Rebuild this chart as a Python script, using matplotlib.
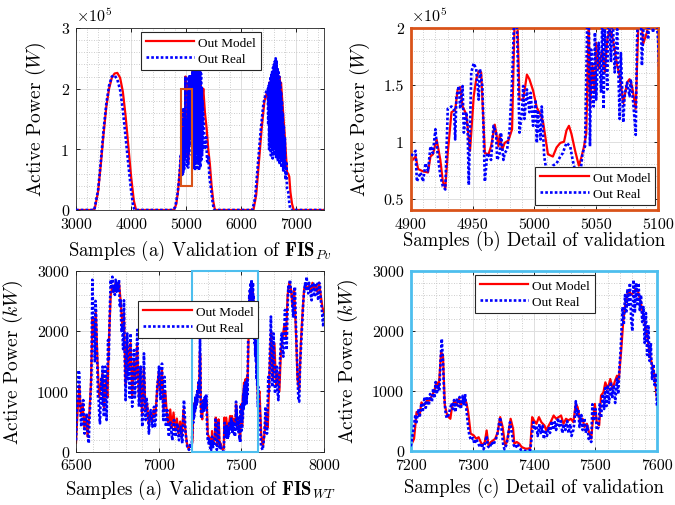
import numpy as np
import matplotlib
matplotlib.use('Agg')
import matplotlib.pyplot as plt
from matplotlib.patches import Rectangle
from matplotlib.ticker import MultipleLocator, FuncFormatter

plt.rcParams['font.family'] = 'serif'
plt.rcParams['font.serif'] = ['cmr10']
plt.rcParams['mathtext.fontset'] = 'cm'
plt.rcParams['axes.formatter.use_mathtext'] = True

################################################################
# data - PV (values in 1e5 W)

pv_model_pre_x = [3000, 3300, 3340, 3400, 3450, 3500, 3550, 3600, 3650, 3700, 3750, 3800, 3850, 3900, 3950,
                  4000, 4050, 4090, 4780, 4820, 4850, 4880]
pv_model_pre_y = [0, 0, 0.02, 0.3, 0.75, 1.25, 1.7, 2.0, 2.18, 2.25, 2.26, 2.18, 1.95, 1.55, 1.05,
                  0.55, 0.15, 0, 0, 0.1, 0.3, 0.6]

pv_model_det_x = [4900, 4904, 4906, 4910, 4914, 4916, 4918, 4921, 4924, 4926, 4928, 4930, 4933, 4936, 4938,
                  4940, 4942, 4945, 4948, 4951, 4953, 4955, 4957, 4960, 4963, 4965, 4968, 4971, 4972, 4974,
                  4976, 4979, 4982, 4984, 4986, 4988, 4991, 4994, 4996, 4999, 5002, 5005, 5007, 5011, 5015,
                  5018, 5021, 5024, 5026, 5028, 5030, 5033, 5036, 5038, 5040, 5042, 5044, 5045, 5047, 5049,
                  5050, 5052, 5055, 5057, 5059, 5061, 5063, 5065, 5067, 5069, 5072, 5075, 5077, 5079, 5082,
                  5084, 5086, 5088, 5091, 5093, 5100]
pv_model_det_y = [0.82, 0.87, 0.76, 0.74, 0.73, 0.87, 0.89, 1.02, 0.84, 0.65, 0.59, 0.90, 1.26, 1.28, 1.46,
                  1.48, 1.31, 1.24, 0.92, 1.40, 1.55, 1.62, 1.61, 0.90, 0.89, 0.96, 1.15, 0.96, 1.06, 0.93,
                  0.99, 1.01, 1.11, 2.05, 2.2, 1.37, 1.37, 1.59, 1.55, 1.45, 1.30, 1.24, 1.18, 0.89, 0.87,
                  0.95, 0.99, 1.0, 1.10, 1.14, 1.07, 0.92, 0.79, 0.86, 0.95, 1.07, 2.1, 1.29, 1.67, 1.43,
                  1.87, 1.64, 1.81, 1.61, 1.90, 1.99, 1.93, 1.81, 1.67, 1.58, 1.34, 1.52, 1.55, 1.49, 1.29,
                  2.0, 2.2, 1.86, 1.96, 2.1, 2.1]

pv_model_post_x = [5105, 5110, 5115, 5120, 5125, 5130, 5135, 5140, 5145, 5150, 5155, 5160, 5165, 5170, 5175,
                   5180, 5185, 5190, 5195, 5200, 5205, 5210, 5215, 5220, 5225, 5230, 5235, 5240, 5245, 5250,
                   5255, 5260, 5265, 5270, 5275, 5280, 5290, 5300, 5310, 5340, 5370, 5400, 5430, 5460, 5490,
                   5520, 6220, 6270, 6320, 6370, 6420, 6470, 6500, 6510, 6525, 6540, 6555, 6570, 6585, 6600,
                   6615, 6630, 6645, 6660, 6675, 6690, 6705, 6720, 6735, 6750, 6770, 6790, 6810, 6830, 6850,
                   6870, 6890, 6920, 6950, 7500]
pv_model_post_y = [1.5, 2.2, 1.4, 2.3, 1.2, 2.25, 1.3, 2.3, 1.1, 2.3, 1.4, 2.2, 1.2, 2.3, 1.3,
                   2.25, 1.1, 2.3, 1.4, 2.2, 1.2, 2.3, 1.3, 2.2, 1.1, 2.25, 1.4, 2.1, 1.3, 2.2,
                   1.5, 2.1, 1.4, 2.0, 1.6, 2.0, 1.7, 1.9, 2.0, 1.6, 1.35, 1.0, 0.75, 0.4, 0.15,
                   0, 0, 0.25, 0.8, 1.35, 1.8, 1.95, 1.7, 2.1, 1.6, 2.2, 1.5, 2.25, 1.4, 2.3,
                   1.5, 2.3, 1.6, 2.3, 1.7, 2.2, 1.8, 2.1, 1.9, 1.7, 1.45, 1.2, 0.9, 0.62, 0.6,
                   0.55, 0.3, 0.1, 0, 0]

pv_real_pre_x = [3000, 3330, 3400, 3450, 3500, 3550, 3600, 3650, 3700, 3750, 3800, 3850, 3900, 3950, 4000,
                 4040, 4070, 4760, 4800, 4840, 4870, 4890]
pv_real_pre_y = [0, 0, 0.32, 0.8, 1.32, 1.75, 2.05, 2.2, 2.22, 2.15, 1.98, 1.65, 1.2, 0.75, 0.32,
                 0.05, 0, 0, 0.05, 0.25, 0.5, 0.75]

pv_real_det_x = [4900, 4904, 4905, 4908, 4910, 4912, 4914, 4916, 4918, 4920, 4922, 4924, 4926, 4928, 4930,
                 4933, 4935, 4936, 4937, 4939, 4940, 4942, 4943, 4945, 4946, 4947, 4949, 4951, 4953, 4955,
                 4956, 4958, 4960, 4962, 4964, 4965, 4967, 4969, 4970, 4972, 4973, 4975, 4976, 4978, 4980,
                 4982, 4984, 4985, 4986, 4988, 4990, 4991, 4992, 4994, 4996, 4997, 4999, 5001, 5002, 5003,
                 5005, 5006, 5008, 5010, 5013, 5015, 5018, 5021, 5023, 5026, 5029, 5031, 5034, 5037, 5039,
                 5041, 5043, 5044, 5045, 5046, 5048, 5049, 5050, 5052, 5054, 5055, 5056, 5057, 5059, 5060,
                 5062, 5063, 5065, 5067, 5069, 5070, 5072, 5073, 5075, 5077, 5078, 5080, 5082, 5083, 5084,
                 5086, 5087, 5089, 5092, 5094, 5096, 5098, 5100]
pv_real_det_y = [0.87, 0.92, 0.65, 0.73, 0.65, 0.81, 0.74, 0.96, 0.90, 1.11, 0.87, 0.70, 0.61, 0.58, 1.29,
                 1.31, 1.29, 1.02, 1.40, 1.49, 1.29, 1.49, 1.08, 1.26, 1.14, 0.62, 1.61, 1.69, 1.64, 1.37,
                 1.64, 1.49, 0.65, 0.90, 0.87, 0.84, 1.14, 1.08, 0.84, 0.90, 1.08, 0.84, 0.90, 0.93, 1.11,
                 1.52, 2.2, 2.2, 1.98, 1.08, 1.26, 1.49, 1.20, 1.46, 1.26, 1.43, 1.14, 1.37, 0.99, 1.26,
                 1.02, 1.31, 0.87, 0.73, 0.75, 0.79, 0.81, 0.87, 0.90, 0.99, 0.96, 0.84, 0.70, 0.70, 0.90,
                 0.96, 2.2, 2.2, 0.96, 1.81, 1.31, 1.96, 1.37, 1.87, 1.43, 2.2, 1.29, 1.99, 1.46, 2.2,
                 1.70, 2.2, 1.61, 1.99, 1.20, 1.78, 1.17, 1.40, 1.52, 1.40, 1.55, 1.34, 1.06, 1.87, 2.2,
                 2.2, 1.67, 2.2, 1.90, 2.2, 1.96, 2.2, 1.90]

pv_real_post_x = [5104, 5108, 5112, 5116, 5120, 5124, 5128, 5132, 5136, 5140, 5144, 5148, 5152, 5156, 5160,
                  5164, 5168, 5172, 5176, 5180, 5184, 5188, 5192, 5196, 5200, 5204, 5208, 5212, 5216, 5220,
                  5224, 5228, 5232, 5236, 5240, 5244, 5248, 5252, 5256, 5260, 5264, 5268, 5272, 5276, 5280,
                  5284, 5288, 5292, 5296, 5300, 5320, 5340, 5360, 5380, 5400, 5420, 5450, 5480, 5500, 5510,
                  6200, 6250, 6300, 6350, 6400, 6450, 6480, 6488, 6496, 6504, 6512, 6520, 6528, 6536, 6544,
                  6552, 6560, 6568, 6576, 6584, 6592, 6600, 6608, 6616, 6624, 6632, 6640, 6648, 6656, 6664,
                  6672, 6680, 6688, 6696, 6704, 6712, 6720, 6728, 6736, 6744, 6752, 6760, 6770, 6780, 6790,
                  6800, 6815, 6830, 6850, 6870, 6890, 7500]
pv_real_post_y = [0.9, 2.2, 1.0, 2.3, 0.8, 2.35, 1.1, 2.3, 0.7, 2.25, 1.2, 2.35, 0.9, 2.3, 0.65,
                  2.2, 1.0, 2.35, 0.75, 2.3, 1.1, 2.25, 0.7, 2.3, 0.9, 2.35, 1.2, 2.2, 0.8, 2.3,
                  1.0, 2.25, 0.65, 2.1, 0.9, 2.2, 1.1, 2.3, 0.7, 2.0, 1.0, 2.25, 0.8, 1.9, 1.2,
                  2.0, 0.9, 1.8, 1.0, 1.7, 1.4, 1.0, 1.2, 0.8, 0.9, 0.55, 0.35, 0.12, 0.02, 0,
                  0, 0.2, 0.75, 1.3, 1.75, 1.95, 2.0, 1.4, 2.05, 1.0, 2.1, 1.2, 2.2, 0.9, 2.25,
                  1.1, 2.3, 0.85, 2.35, 1.0, 2.4, 0.9, 2.45, 1.1, 2.5, 0.85, 2.45, 1.0, 2.35, 0.8,
                  2.3, 1.05, 2.2, 0.75, 2.1, 0.9, 1.95, 0.7, 1.8, 0.8, 1.6, 0.65, 1.4, 0.7, 1.2,
                  0.5, 0.8, 0.35, 0.3, 0.12, 0, 0]

################################################################
# data - WT (kW)

wt_model_pre_x = [6500, 6510, 6520, 6530, 6540, 6550, 6560, 6570, 6580, 6590, 6600, 6610, 6620, 6630, 6640,
                  6650, 6660, 6670, 6680, 6690, 6700, 6710, 6720, 6730, 6740, 6750, 6760, 6770, 6780, 6790,
                  6800, 6810, 6820, 6830, 6840, 6850, 6860, 6870, 6880, 6890, 6900, 6910, 6920, 6930, 6940,
                  6950, 6960, 6970, 6980, 6990, 7000, 7010, 7020, 7030, 7040, 7050, 7060, 7070, 7080, 7090,
                  7100, 7110, 7120, 7130, 7140, 7150, 7160, 7170, 7180, 7190]
wt_model_pre_y = [150, 700, 1100, 600, 800, 400, 600, 250, 600, 1100, 2200, 1900, 2300, 1500, 900,
                  1100, 1300, 700, 1200, 900, 1900, 2600, 2750, 2650, 2800, 2750, 2800, 2500, 2100, 2300,
                  1100, 1800, 1400, 1800, 900, 1500, 1200, 1800, 900, 1300, 600, 1400, 700, 800, 450,
                  650, 500, 700, 600, 1000, 1300, 1000, 1350, 700, 1000, 600, 450, 700, 400, 650,
                  350, 550, 300, 500, 250, 700, 400, 150, 50, 100]

wt_model_det_x = [7200, 7205, 7209, 7214, 7217, 7221, 7226, 7230, 7234, 7237, 7242, 7245, 7249, 7252, 7255,
                  7259, 7264, 7267, 7271, 7274, 7278, 7281, 7285, 7290, 7293, 7297, 7302, 7306, 7310, 7312,
                  7316, 7320, 7323, 7326, 7330, 7334, 7337, 7341, 7345, 7349, 7353, 7356, 7359, 7362, 7366,
                  7368, 7372, 7376, 7380, 7386, 7390, 7394, 7397, 7400, 7404, 7408, 7412, 7417, 7420, 7424,
                  7427, 7432, 7436, 7440, 7444, 7448, 7452, 7456, 7460, 7464, 7468, 7471, 7475, 7479, 7482,
                  7486, 7490, 7493, 7496, 7499, 7502, 7506, 7509, 7513, 7516, 7520, 7524, 7528, 7531, 7535,
                  7538, 7542, 7545, 7548, 7551, 7554, 7558, 7562, 7565, 7569, 7573, 7576, 7580, 7584, 7587,
                  7590, 7595, 7597, 7600]
wt_model_det_y = [94, 205, 650, 590, 810, 760, 840, 840, 925, 980, 1145, 1035, 1645, 1590, 760,
                  590, 537, 760, 840, 760, 870, 760, 870, 810, 650, 290, 260, 205, 230, 180,
                  94, 150, 343, 94, 150, 180, 205, 315, 565, 400, 94, 150, 343, 537, 370,
                  122, 150, 122, 66, 39, 39, 50, 565, 510, 454, 565, 480, 426, 343, 426,
                  480, 592, 537, 565, 592, 454, 537, 510, 537, 480, 785, 730, 480, 537, 400,
                  454, 290, 205, 537, 785, 480, 426, 925, 980, 1145, 1035, 1200, 1035, 1145, 1256,
                  1200, 1700, 2140, 2420, 2585, 2670, 2610, 2640, 2695, 2670, 2500, 2360, 2140, 1920, 1700,
                  1530, 1310, 1145, 870]

wt_model_post_x = [7610, 7620, 7630, 7640, 7650, 7660, 7670, 7680, 7690, 7700, 7710, 7720, 7730, 7740, 7750,
                   7760, 7770, 7780, 7790, 7800, 7810, 7820, 7830, 7840, 7850, 7860, 7870, 7880, 7890, 7900,
                   7910, 7920, 7930, 7940, 7950, 7960, 7970, 7980, 7990, 8000]
wt_model_post_y = [1000, 300, 80, 300, 650, 400, 1300, 2000, 1200, 1800, 1100, 1300, 1000, 1700, 1900,
                   2100, 1900, 2600, 2800, 2700, 2400, 2700, 2000, 1200, 1000, 1800, 2300, 2700, 2750, 2700,
                   2750, 2650, 2800, 2700, 2750, 2650, 2800, 2600, 2400, 2300]

wt_real_pre_x = [6500, 6506, 6512, 6515, 6520, 6526, 6532, 6538, 6544, 6548, 6552, 6558, 6565, 6571, 6577,
                 6581, 6585, 6589, 6593, 6596, 6599, 6604, 6609, 6614, 6618, 6621, 6625, 6629, 6633, 6637,
                 6641, 6645, 6649, 6653, 6657, 6661, 6665, 6669, 6673, 6677, 6681, 6685, 6690, 6694, 6698,
                 6702, 6706, 6710, 6715, 6720, 6725, 6730, 6735, 6740, 6745, 6750, 6755, 6760, 6765, 6770,
                 6775, 6780, 6785, 6790, 6795, 6800, 6805, 6810, 6815, 6820, 6825, 6830, 6835, 6840, 6845,
                 6851, 6856, 6861, 6866, 6871, 6876, 6881, 6886, 6891, 6896, 6901, 6906, 6911, 6916, 6921,
                 6926, 6931, 6936, 6941, 6946, 6952, 6957, 6962, 6967, 6972, 6977, 6982, 6987, 6992, 6997,
                 7002, 7007, 7012, 7016, 7020, 7024, 7028, 7032, 7036, 7040, 7044, 7048, 7052, 7057, 7062,
                 7067, 7073, 7078, 7083, 7088, 7093, 7098, 7103, 7108, 7113, 7118, 7123, 7128, 7133, 7138,
                 7143, 7148, 7153, 7158, 7163, 7168, 7173, 7178, 7183, 7188, 7193, 7197]
wt_real_pre_y = [190, 700, 1080, 1350, 1300, 700, 415, 650, 855, 500, 300, 500, 635, 300, 140,
                 500, 745, 1000, 1240, 2000, 2850, 2200, 2070, 1500, 2500, 2350, 1800, 1410, 900, 855,
                 600, 470, 900, 1240, 800, 1410, 900, 580, 1000, 1410, 800, 525, 1200, 1850, 1500,
                 2070, 2500, 2850, 2700, 2900, 2650, 2735, 2600, 2850, 2650, 2790, 2700, 2850, 2400, 2510,
                 2000, 2070, 1700, 2510, 1500, 855, 1500, 1960, 1200, 1410, 900, 1960, 1200, 745, 1400,
                 1685, 900, 1130, 1600, 2020, 1200, 745, 1100, 1410, 800, 415, 900, 1630, 900, 525,
                 900, 745, 600, 300, 600, 690, 500, 415, 600, 745, 400, 525, 800, 1130, 1200,
                 1410, 1000, 855, 1200, 1460, 1000, 525, 900, 1240, 800, 415, 600, 690, 450, 250,
                 500, 470, 300, 190, 400, 525, 350, 250, 400, 470, 300, 190, 350, 415, 250,
                 140, 500, 855, 600, 300, 200, 80, 60, 30, 60, 140, 50]

wt_real_det_x = [7200, 7204, 7207, 7209, 7212, 7214, 7217, 7219, 7222, 7224, 7226, 7229, 7231, 7234, 7236,
                 7238, 7240, 7242, 7244, 7246, 7248, 7250, 7252, 7254, 7256, 7258, 7261, 7263, 7266, 7268,
                 7270, 7272, 7275, 7277, 7279, 7281, 7284, 7286, 7288, 7290, 7293, 7295, 7298, 7301, 7303,
                 7306, 7309, 7312, 7315, 7318, 7320, 7323, 7325, 7328, 7331, 7334, 7337, 7340, 7343, 7345,
                 7348, 7350, 7352, 7355, 7358, 7361, 7364, 7367, 7370, 7373, 7376, 7379, 7382, 7386, 7390,
                 7394, 7397, 7399, 7401, 7404, 7406, 7409, 7411, 7414, 7416, 7419, 7421, 7424, 7426, 7429,
                 7431, 7434, 7436, 7439, 7441, 7444, 7446, 7449, 7451, 7454, 7456, 7459, 7461, 7464, 7466,
                 7468, 7470, 7472, 7474, 7477, 7479, 7482, 7484, 7487, 7489, 7491, 7493, 7495, 7497, 7500,
                 7502, 7505, 7507, 7509, 7512, 7514, 7516, 7518, 7520, 7522, 7525, 7527, 7530, 7532, 7535,
                 7537, 7539, 7541, 7544, 7546, 7548, 7550, 7552, 7554, 7556, 7558, 7560, 7562, 7564, 7566,
                 7568, 7570, 7572, 7574, 7576, 7578, 7580, 7582, 7584, 7586, 7588, 7590, 7592, 7594, 7596,
                 7598, 7600]
wt_real_det_y = [100, 350, 600, 480, 700, 560, 800, 650, 900, 720, 880, 760, 950, 820, 1040,
                 880, 1150, 950, 1100, 1000, 1500, 1870, 1500, 900, 660, 550, 600, 680, 800, 700,
                 850, 650, 880, 750, 900, 700, 920, 760, 950, 700, 400, 250, 180, 220, 120,
                 200, 140, 60, 130, 30, 120, 250, 80, 50, 150, 100, 180, 250, 450, 560,
                 300, 100, 30, 100, 250, 480, 300, 100, 50, 120, 60, 20, 10, 0, 10,
                 20, 300, 480, 350, 420, 250, 450, 300, 420, 200, 350, 250, 400, 300, 500,
                 350, 480, 350, 550, 420, 500, 300, 450, 350, 500, 300, 450, 250, 350, 500,
                 830, 600, 700, 400, 600, 350, 550, 300, 420, 200, 250, 150, 780, 500, 700,
                 350, 400, 800, 550, 950, 700, 1050, 750, 1100, 800, 1150, 900, 1100, 800, 1200,
                 950, 1400, 1700, 2400, 2100, 2600, 2300, 2700, 2400, 2800, 2200, 2000, 2850, 2300, 2800,
                 2450, 2800, 2350, 2600, 2150, 2400, 1800, 2300, 1600, 2100, 1500, 1800, 1200, 1450, 1100,
                 1300, 750]

wt_real_post_x = [7603, 7608, 7613, 7616, 7619, 7624, 7629, 7634, 7639, 7643, 7647, 7651, 7655, 7659, 7663,
                  7668, 7673, 7676, 7679, 7683, 7687, 7691, 7695, 7700, 7704, 7709, 7714, 7719, 7724, 7729,
                  7734, 7739, 7744, 7749, 7754, 7759, 7764, 7769, 7774, 7779, 7784, 7789, 7794, 7799, 7804,
                  7809, 7814, 7819, 7824, 7829, 7835, 7840, 7845, 7850, 7855, 7860, 7865, 7870, 7875, 7880,
                  7885, 7890, 7895, 7900, 7905, 7910, 7915, 7920, 7925, 7930, 7935, 7940, 7945, 7950, 7955,
                  7960, 7966, 7971, 7976, 7981, 7986, 7991, 7996, 8000]
wt_real_post_y = [1075, 800, 580, 300, 80, 60, 30, 150, 300, 500, 745, 500, 300, 800, 1240,
                  1000, 1685, 1900, 2240, 1500, 1075, 1500, 1960, 1300, 965, 1200, 1410, 1000, 855, 1200,
                  1520, 1800, 1960, 1700, 1575, 2000, 2350, 2000, 1685, 2300, 2735, 2650, 2850, 2700, 2625,
                  2400, 2240, 2600, 2735, 2200, 1685, 1200, 855, 830, 1410, 1700, 1960, 2200, 2510, 2650,
                  2790, 2700, 2900, 2700, 2625, 2800, 2735, 2600, 2510, 2800, 2790, 2600, 2570, 2800, 2790,
                  2600, 2510, 2800, 2735, 2500, 2400, 2200, 2070, 2300]

pv_model_x = pv_model_pre_x + pv_model_det_x + pv_model_post_x
pv_model_y = pv_model_pre_y + pv_model_det_y + pv_model_post_y
pv_real_x = pv_real_pre_x + pv_real_det_x + pv_real_post_x
pv_real_y = pv_real_pre_y + pv_real_det_y + pv_real_post_y
wt_model_x = wt_model_pre_x + wt_model_det_x + wt_model_post_x
wt_model_y = wt_model_pre_y + wt_model_det_y + wt_model_post_y
wt_real_x = wt_real_pre_x + wt_real_det_x + wt_real_post_x
wt_real_y = wt_real_pre_y + wt_real_det_y + wt_real_post_y

ORANGE = '#D95319'
CYAN = '#4DBEEE'

################################################################
# funkcje

def style_axis(ax, xlim, ylim, xmaj, xmin, ymaj, ymin):
    ax.set_xlim(xlim)
    ax.set_ylim(ylim)
    ax.xaxis.set_major_locator(MultipleLocator(xmaj))
    ax.xaxis.set_minor_locator(MultipleLocator(xmin))
    ax.yaxis.set_major_locator(MultipleLocator(ymaj))
    ax.yaxis.set_minor_locator(MultipleLocator(ymin))
    ax.xaxis.set_major_formatter(FuncFormatter(lambda v, p: '%d' % v))
    ax.yaxis.set_major_formatter(FuncFormatter(lambda v, p: '%g' % v))
    ax.grid(which='major', color='#dedede', lw=0.7)
    ax.grid(which='minor', color='#bdbdbd', lw=0.6, ls=(0, (1, 2)))
    ax.set_axisbelow(True)
    ax.tick_params(which='major', direction='in', top=True, right=True, length=3,
                   width=0.6, labelsize=11.5, pad=5)
    ax.tick_params(which='minor', length=0)
    for s in ax.spines.values():
        s.set_linewidth(0.6)
        s.set_color('#262626')


def draw(ax, xm, ym, xr, yr):
    ax.plot(xm, ym, color='#ff0000', lw=1.6, label='Out Model', zorder=2)
    ax.plot(xr, yr, color='#0000ff', lw=1.9, ls=(0, (1, 0.8)), label='Out Real', zorder=3)


def add_legend(ax, loc, anchor):
    leg = ax.legend(loc=loc, bbox_to_anchor=anchor, prop={'family': 'Liberation Serif', 'size': 9.5},
                    fancybox=False, framealpha=1, edgecolor='#262626', handlelength=3.7,
                    handletextpad=0.3, labelspacing=0.3, borderpad=0.35, borderaxespad=0)
    leg.get_frame().set_linewidth(0.8)
    leg.set_zorder(10)


################################################################

fig = plt.figure(figsize=(6.75, 5.06), dpi=100)
ax1 = fig.add_axes([0.1126, 0.583, 0.3674, 0.3597])
ax2 = fig.add_axes([0.6084, 0.583, 0.3664, 0.3597])
ax3 = fig.add_axes([0.1126, 0.1053, 0.3674, 0.3577])
ax4 = fig.add_axes([0.6089, 0.1067, 0.3644, 0.3557])

draw(ax1, pv_model_x, pv_model_y, pv_real_x, pv_real_y)
style_axis(ax1, (3000, 7500), (0, 3), 1000, 200, 1, 0.2)
ax1.add_patch(Rectangle((4900, 0.4), 200, 1.6, fill=False, ec=ORANGE, lw=1.5, zorder=5))
add_legend(ax1, 'upper left', (0.262, 0.978))

draw(ax2, pv_model_x, pv_model_y, pv_real_x, pv_real_y)
style_axis(ax2, (4900, 5100), (0.4, 2), 50, 10, 0.5, 0.1)
add_legend(ax2, 'lower right', (0.988, 0.029))

draw(ax3, wt_model_x, wt_model_y, wt_real_x, wt_real_y)
style_axis(ax3, (6500, 8000), (0, 3000), 500, 100, 1000, 200)
ax3.add_patch(Rectangle((7200, 0), 400, 3000, fill=False, ec=CYAN, lw=1.5, zorder=5, clip_on=False))
add_legend(ax3, 'upper left', (0.251, 0.834))

draw(ax4, wt_model_x, wt_model_y, wt_real_x, wt_real_y)
style_axis(ax4, (7200, 7600), (0, 3000), 100, 20, 1000, 200)
add_legend(ax4, 'upper left', (0.26, 0.978))

for ax, c in [(ax2, ORANGE), (ax4, CYAN)]:
    for s in ax.spines.values():
        s.set_color(c)
        s.set_linewidth(2)

for ax in (ax1, ax2):
    ax.text(0.0, 1.02, r'$\times10^5$', transform=ax.transAxes, fontsize=11.5, va='bottom', ha='left')
    ax.set_ylabel(r'Active Power $(W)$', fontsize=14)
for ax in (ax3, ax4):
    ax.set_ylabel(r'Active Power $(kW)$', fontsize=14)

ax1.set_xlabel(r'Samples (a) Validation of $\mathbf{FIS}_{Pv}$', fontsize=13.5, va='top')
ax2.set_xlabel(r'Samples (b) Detail of validation', fontsize=13.5, va='top')
ax3.set_xlabel(r'Samples (a) Validation of $\mathbf{FIS}_{WT}$', fontsize=13.5, va='top')
ax4.set_xlabel(r'Samples (c) Detail of validation', fontsize=13.5, va='top')

ax1.yaxis.set_label_coords(-0.113, 0.5)
ax2.yaxis.set_label_coords(-0.158, 0.5)
ax3.yaxis.set_label_coords(-0.206, 0.5)
ax4.yaxis.set_label_coords(-0.207, 0.5)
ax1.xaxis.set_label_coords(0.5, -0.154)
ax2.xaxis.set_label_coords(0.5, -0.11)
ax3.xaxis.set_label_coords(0.5, -0.138)
ax4.xaxis.set_label_coords(0.5, -0.143)

fig.savefig('out.png', dpi=100)
